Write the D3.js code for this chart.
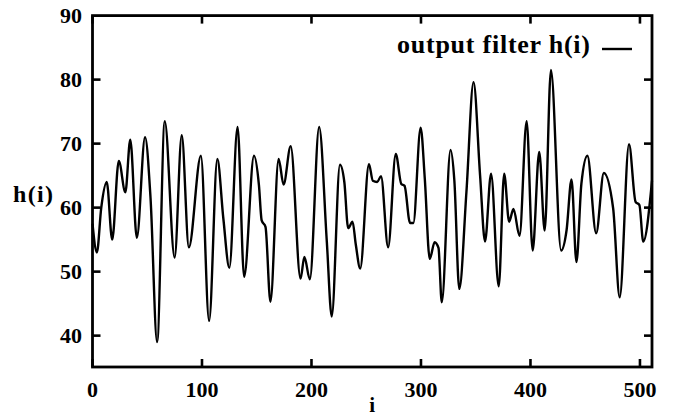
<!DOCTYPE html>
<html lang="en">
<head>
    <meta charset="UTF-8">
    <title>output filter h(i)</title>
    <style>
        body {
            margin: 0;
            background: #fff;
        }
        text {
            font-family: "Liberation Serif", "DejaVu Serif", serif;
            font-weight: bold;
            fill: #000;
        }
        .frame {
            fill: none;
            stroke: #000;
            stroke-width: 2.8px;
        }
        .tick {
            stroke: #000;
            stroke-width: 2.6px;
        }
        .series {
            fill: none;
            stroke: #000;
            stroke-width: 2.4px;
            stroke-linejoin: round;
        }
    </style>
</head>
<body>
    <svg width="676" height="416"></svg>
    <script src="https://d3js.org/d3.v7.min.js"></script>
    <script>
        // sample index and filter value at each turning point of the curve
        const idx = [0, 4, 8, 13, 18, 24, 30, 34.5, 40.5, 48, 53, 59, 66, 75, 81.5, 88, 99, 106.5, 114, 119.5, 125, 132.5, 138.5,
            147.5, 152, 154.5, 158, 162.5, 170, 174.5, 181, 190, 193.5, 198.5, 207, 214, 218.5, 226, 230, 233.5, 237.5, 240.5,
            244.5, 252.5, 256, 260, 263.5, 270, 277, 282, 285, 290, 293, 299.7, 303.5, 308, 312.5, 316, 319, 327, 330.5, 335,
            341.5, 348, 354, 358.5, 364, 371, 376, 380.5, 384.5, 390, 396.5, 402, 408, 413, 418.7, 428, 433, 437.5, 442, 446.5,
            452, 460, 467, 475.5, 481.5, 490, 496, 499.5, 503, 511];
        const val = [57.5, 53, 60, 64, 55, 67.3, 62.4, 70.6, 55.3, 71, 61.5, 39, 73.5, 52.2, 71.3, 53.8, 68.1, 42.3, 67.6, 58.3, 50.6,
            72.6, 49.2, 68.1, 63.5, 58, 57, 45.3, 67.6, 63.6, 69.6, 48.9, 52.3, 48.8, 72.6, 54.7, 43, 66.7, 64, 56.8, 57.8, 54.2,
            50.5, 66.8, 64.2, 64, 64.9, 53.8, 68.4, 63.7, 63.4, 57.6, 57.6, 72.5, 64.5, 52, 54.6, 53.7, 45.2, 69, 64.2, 47.3,
            62.4, 79.6, 65, 54.7, 65.3, 47.7, 65.3, 57.8, 59.8, 55.6, 73.5, 53.3, 68.7, 56.4, 81.5, 53.3, 56.5, 64.4, 51.5, 63.7,
            68.1, 56, 65.4, 59.9, 46, 69.9, 60.9, 60.4, 54.7, 64.2];
        const xTicks = [0, 100, 200, 300, 400, 500];
        const yTicks = [40, 50, 60, 70, 80, 90];

        const points = idx.map((d, k) => ({ i: d, h: val[k] }));

        const svg = d3.select("svg");
        const plotL = 92.5, plotR = 652, plotT = 15.6, plotB = 367;

        const x = d3.scaleLinear().domain([0, 511]).range([plotL, plotR]);
        const y = d3.scaleLinear().domain([35.1, 90]).range([plotB, plotT]);

        // curve first, frame drawn over it
        const line = d3.line()
            .x(d => x(d.i))
            .y(d => y(d.h))
            .curve(d3.curveMonotoneX);

        svg.append("path")
            .datum(points)
            .attr("class", "series")
            .attr("d", line);

        svg.append("rect")
            .attr("class", "frame")
            .attr("x", plotL)
            .attr("y", plotT)
            .attr("width", plotR - plotL)
            .attr("height", plotB - plotT);

        const tl = 8;
        const ticks = svg.append("g");
        xTicks.forEach(t => {
            ticks.append("line").attr("class", "tick")
                .attr("x1", x(t)).attr("x2", x(t)).attr("y1", plotB).attr("y2", plotB - tl);
            ticks.append("line").attr("class", "tick")
                .attr("x1", x(t)).attr("x2", x(t)).attr("y1", plotT).attr("y2", plotT + tl);
            svg.append("text")
                .attr("x", x(t))
                .attr("y", 397)
                .attr("text-anchor", "middle")
                .attr("font-size", 22)
                .text(t);
        });
        yTicks.forEach(t => {
            if (t < 90) {
                ticks.append("line").attr("class", "tick")
                    .attr("x1", plotL).attr("x2", plotL + tl).attr("y1", y(t)).attr("y2", y(t));
                ticks.append("line").attr("class", "tick")
                    .attr("x1", plotR).attr("x2", plotR - tl).attr("y1", y(t)).attr("y2", y(t));
            }
            svg.append("text")
                .attr("x", 82)
                .attr("y", y(t) + 7.5)
                .attr("text-anchor", "end")
                .attr("font-size", 22)
                .text(t);
        });

        // axis titles
        svg.append("text")
            .attr("x", 13)
            .attr("y", 202)
            .attr("font-size", 24)
            .attr("textLength", 40)
            .text("h(i)");
        svg.append("text")
            .attr("x", (plotL + plotR) / 2)
            .attr("y", 412)
            .attr("text-anchor", "middle")
            .attr("font-size", 21)
            .text("i");

        // legend
        svg.append("text")
            .attr("x", 397)
            .attr("y", 53)
            .attr("font-size", 26)
            .attr("textLength", 193)
            .text("output filter h(i)");
        svg.append("line")
            .attr("class", "series")
            .attr("x1", 602).attr("x2", 632)
            .attr("y1", 49).attr("y2", 49);
    </script>
</body>
</html>
